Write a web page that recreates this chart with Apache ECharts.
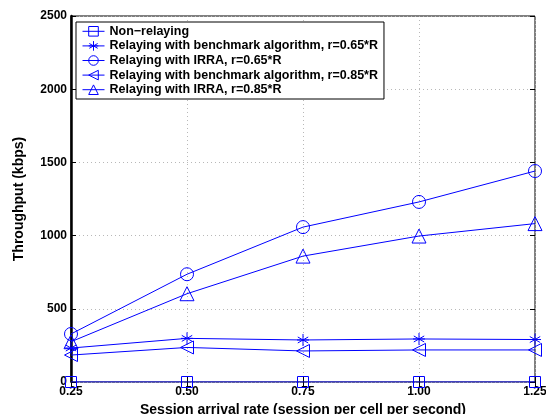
<!DOCTYPE html>
<html>
<head>
<meta charset="utf-8">
<script src="https://cdn.jsdelivr.net/npm/echarts@6/dist/echarts.min.js"></script>
<style>
  html, body { margin: 0; padding: 0; background: #fff; }
  #chart { width: 546px; height: 414px; }
</style>
</head>
<body>
<div id="chart"></div>
<script>
// arrival rates (session per cell per second)
const rates = [0.25, 0.5, 0.75, 1.0, 1.25];

// throughput in kbps
const nonRelaying = [0, 0, 0, 0, 0];
const bench065 = [232, 298, 287, 294, 290];
const irra065 = [328, 736, 1058, 1230, 1441];
const bench085 = [184, 236, 212, 219, 219];
const irra085 = [275, 603, 860, 997, 1082];

const seriesNames = [
  'Non\u2212relaying',
  'Relaying with benchmark algorithm, r=0.65*R',
  'Relaying with IRRA, r=0.65*R',
  'Relaying with benchmark algorithm, r=0.85*R',
  'Relaying with IRRA, r=0.85*R',
];

const BLUE = '#0000ff';
const FONT = 'Liberation Sans, Arial, sans-serif';

const asterisk = 'path://M0,-1L0,1M-0.87,-0.5L0.87,0.5M-0.87,0.5L0.87,-0.5M-1,0L1,0';
const leftTri = 'path://M-1,0L1,-1L1,1Z';

function mkSeries(name, values, symbol, size) {
  return {
    name: name,
    type: 'line',
    data: rates.map((r, i) => [r, values[i]]),
    symbol: symbol,
    symbolSize: size,
    showAllSymbol: true,
    lineStyle: { color: BLUE, width: 1 },
    itemStyle: { color: 'none', borderColor: BLUE, borderWidth: 1 },
    emphasis: { disabled: true },
    animation: false,
    z: 5,
  };
}

const tickFont = { fontFamily: FONT, fontWeight: 'bold', fontSize: 12, color: '#000' };
const nameFont = { fontFamily: FONT, fontWeight: 'bold', fontSize: 14, color: '#000' };

const chart = echarts.init(document.getElementById('chart'));
chart.setOption({
  animation: false,
  textStyle: { fontFamily: FONT },
  grid: {
    left: 71, right: 11, top: 16, bottom: 32,
    outerBoundsMode: 'none',
    containLabel: false,
    show: true, borderColor: '#000', borderWidth: 1,
  },
  legend: {
    orient: 'vertical',
    left: 76, top: 22,
    itemWidth: 22, itemHeight: 12,
    itemGap: 0,
    padding: [2, 6, 2, 6],
    backgroundColor: '#fff',
    borderColor: '#000',
    borderWidth: 1,
    lineStyle: { width: 1 },
    itemStyle: { borderWidth: 1 },
    textStyle: {
      fontFamily: FONT, fontWeight: 'bold', fontSize: 12.5, color: '#000',
      lineHeight: 14.5,
    },
    data: seriesNames,
  },
  xAxis: [{
    type: 'value',
    min: 0.25, max: 1.25, interval: 0.25,
    name: 'Session arrival rate (session per cell per second)',
    nameLocation: 'middle',
    nameGap: 17,
    nameTextStyle: nameFont,
    axisLine: { show: false },
    axisTick: { show: true, inside: true, length: 5, lineStyle: { color: '#000' } },
    axisLabel: Object.assign({ margin: 4, formatter: v => v.toFixed(2) }, tickFont),
    splitLine: { show: true, lineStyle: { color: '#b8b8b8', type: [1, 3] } },
  }, {
    type: 'value', position: 'top',
    min: 0.25, max: 1.25, interval: 0.25,
    axisLine: { show: false },
    axisTick: { show: true, inside: true, length: 5, lineStyle: { color: '#000' } },
    axisLabel: { show: false },
    splitLine: { show: false },
  }],
  yAxis: [{
    type: 'value',
    min: 0, max: 2500, interval: 500,
    name: 'Throughput (kbps)',
    nameLocation: 'middle',
    nameGap: 45,
    nameTextStyle: nameFont,
    axisLine: { show: true, lineStyle: { color: '#000', width: 2.5 } },
    axisTick: { show: true, inside: true, length: 5, lineStyle: { color: '#000', width: 1 } },
    axisLabel: Object.assign({ margin: 4, formatter: v => String(v) }, tickFont),
    splitLine: { show: true, lineStyle: { color: '#b8b8b8', type: [1, 3] } },
  }, {
    type: 'value', position: 'right',
    min: 0, max: 2500, interval: 500,
    axisLine: { show: false },
    axisTick: { show: true, inside: true, length: 5, lineStyle: { color: '#000' } },
    axisLabel: { show: false },
    splitLine: { show: false },
  }],
  series: [
    mkSeries(seriesNames[0], nonRelaying, 'rect', 11),
    mkSeries(seriesNames[1], bench065, asterisk, 12),
    mkSeries(seriesNames[2], irra065, 'circle', 13),
    mkSeries(seriesNames[3], bench085, leftTri, 13),
    mkSeries(seriesNames[4], irra085, 'triangle', 14),
  ],
});
</script>
</body>
</html>
